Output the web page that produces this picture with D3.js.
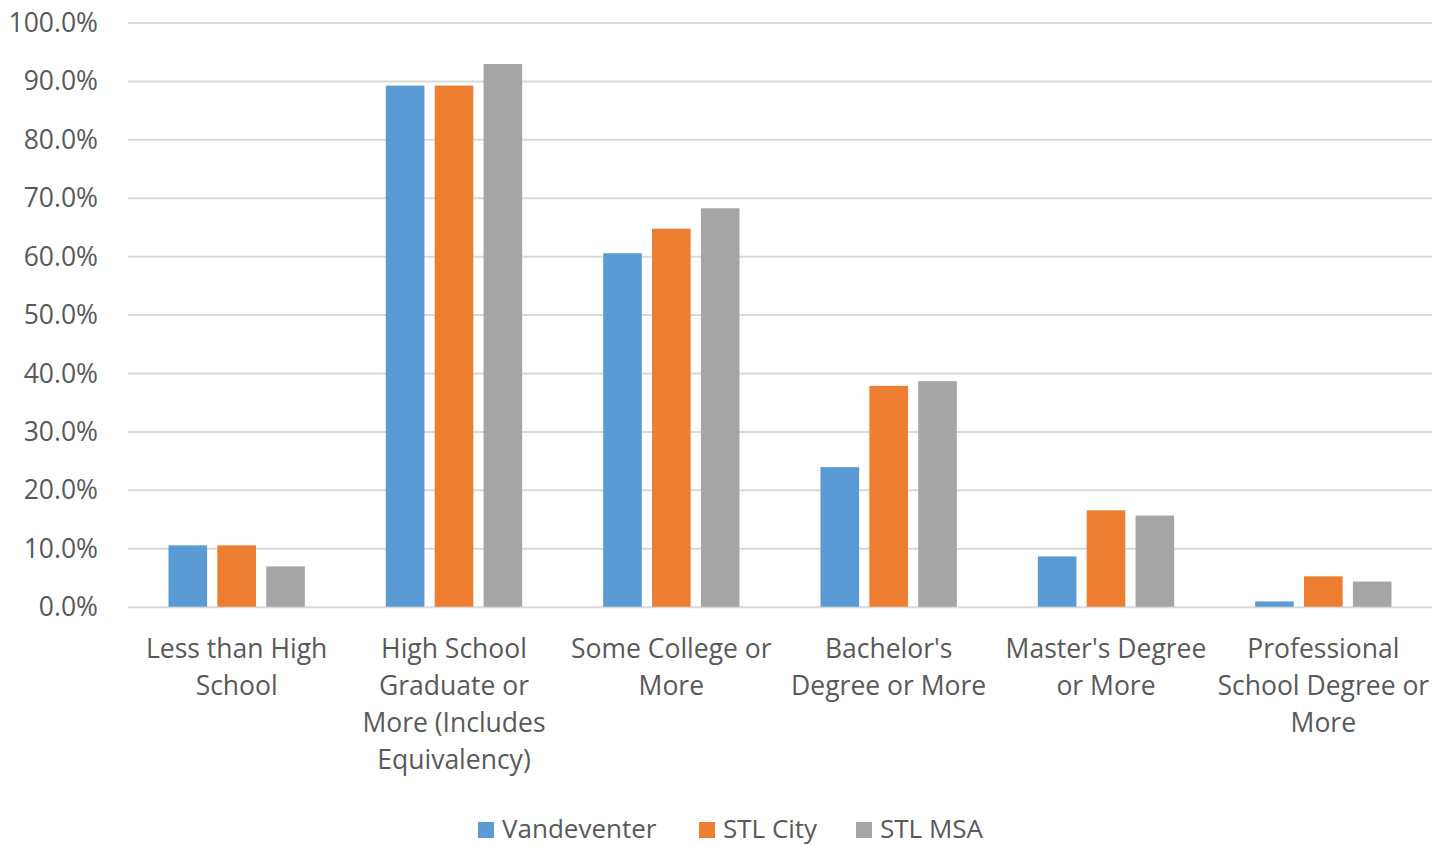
<!DOCTYPE html>
<html>
<head>
<meta charset="utf-8">
<script src="https://cdnjs.cloudflare.com/ajax/libs/d3/7.8.5/d3.min.js"></script>
<style>
  html, body { margin: 0; padding: 0; background: #fff; }
  svg text { font-family: "Open Sans", Lato, sans-serif; fill: #595959; }
</style>
</head>
<body>
<svg id="chart" width="1450" height="846"></svg>
<script>
const categories = [
  ["Less than High", "School"],
  ["High School", "Graduate or", "More (Includes", "Equivalency)"],
  ["Some College or", "More"],
  ["Bachelor's", "Degree or More"],
  ["Master's Degree", "or More"],
  ["Professional", "School Degree or", "More"]
];
const seriesNames = ["Vandeventer", "STL City", "STL MSA"];
const seriesColors = ["#5B9BD5", "#ED7D31", "#A5A5A5"];
const vandeventer = [10.5, 89.2, 60.5, 23.9, 8.6, 0.9];
const stlCity = [10.5, 89.2, 64.7, 37.8, 16.5, 5.2];
const stlMsa = [6.9, 92.9, 68.2, 38.6, 15.6, 4.3];
const yTicks = [0, 10, 20, 30, 40, 50, 60, 70, 80, 90, 100];

const seriesValues = [vandeventer, stlCity, stlMsa];
const svg = d3.select("#chart");
const plotLeft = 128, plotRight = 1432, plotTop = 22.5, plotBottom = 606.7;

const y = d3.scaleLinear().domain([0, 100]).range([plotBottom, plotTop]);
const x0 = d3.scaleBand().domain(d3.range(categories.length)).range([plotLeft, plotRight]).padding(0);
const x1 = d3.scaleBand().domain(d3.range(seriesNames.length))
  .range([40.5, x0.bandwidth() - 40.5]).paddingInner(0.21).paddingOuter(0);

// gridlines
const yAxis = d3.axisLeft(y).tickValues(yTicks).tickSize(-(plotRight - plotLeft)).tickFormat(d => d.toFixed(1) + "%").tickPadding(30);
const gAxis = svg.append("g").attr("transform", `translate(${plotLeft},0)`).call(yAxis);
gAxis.select(".domain").remove();
gAxis.selectAll(".tick line").attr("stroke", "#d9d9d9").attr("stroke-width", 2);
gAxis.selectAll(".tick text").attr("font-size", 26.5).attr("fill", "#595959").attr("x", -30).attr("dy", "0.34em")
  .style("font-family", "'Open Sans', Lato, sans-serif");

// bars
categories.forEach((c, i) => {
  const g = svg.append("g").attr("transform", `translate(${x0(i)},0)`);
  g.selectAll("rect").data(seriesValues.map((s, j) => ({ j, v: s[i] })))
    .enter().append("rect")
    .attr("x", d => x1(d.j))
    .attr("width", x1.bandwidth())
    .attr("y", d => y(d.v))
    .attr("height", d => y(0) - y(d.v))
    .attr("fill", d => seriesColors[d.j]);
});

// category labels
categories.forEach((lines, i) => {
  const cx = x0(i) + x0.bandwidth() / 2;
  const t = svg.append("text")
    .attr("text-anchor", "middle")
    .attr("font-size", 26.5)
    .attr("x", cx)
    .attr("y", 658);
  lines.forEach((ln, k) => {
    t.append("tspan").attr("x", cx).attr("y", 658 + k * 37).text(ln);
  });
});

// legend
const legendX = [478, 699, 856];
const lg = svg.append("g");
seriesNames.forEach((n, j) => {
  lg.append("rect").attr("x", legendX[j]).attr("y", 822).attr("width", 16).attr("height", 16).attr("fill", seriesColors[j]);
  lg.append("text").attr("x", legendX[j] + 24).attr("y", 838).attr("font-size", 26).text(n);
});
</script>
</body>
</html>
